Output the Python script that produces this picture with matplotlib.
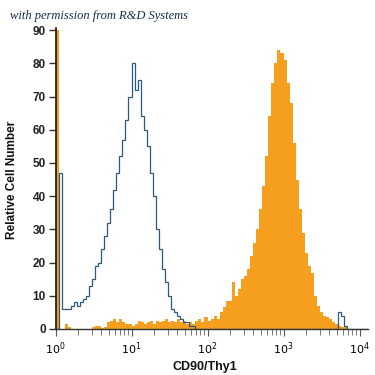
import numpy as np
import matplotlib
matplotlib.use("Agg")
import matplotlib.pyplot as plt
from matplotlib.ticker import LogLocator, FixedLocator

# ---- data: 25 log-channels per decade, starting at 10^0 ----
bins_per_decade = 25
isotype = [0, 47, 6, 6, 6, 7, 8, 7, 8, 9,
           10, 13, 15, 19, 20, 24, 28, 32, 36, 42,
           47, 52, 57, 63, 70, 80, 72, 75, 64, 60,
           55, 47, 40, 30, 24, 18, 14, 10, 6, 5,
           4, 3, 2, 2, 1, 1, 0, 0, 0, 0,
           0, 0, 0, 0, 0, 0, 0, 0, 0, 0,
           0, 0, 0, 0, 0, 0, 0, 0, 0, 0,
           0, 0, 0, 0, 0, 0, 0, 0, 0, 0,
           0, 0, 0, 0, 0, 0, 0, 0, 0, 0,
           0, 0, 0, 5, 4, 1, 0, 0, 0, 0,
           0, 0, 0]
cd90 = [90, 0, 0, 1.5, 0.5, 0, 0, 0, 0, 0,
        0, 0, 0.5, 1, 1, 0.3, 0.5, 2, 2.5, 3,
        2, 3, 2, 1.5, 1.5, 1, 1.5, 2.5, 2, 1.5,
        2, 2.5, 1.5, 2.5, 2, 2.5, 3, 2, 2.5, 2,
        3, 2, 2.5, 1.5, 2, 1.5, 2.5, 3, 2, 3.5,
        2.5, 3, 4, 3, 5, 6.5, 8.5, 8.5, 14, 10,
        12, 15, 16, 18, 22, 26, 30, 36, 43, 52,
        64, 74, 80, 84, 83, 81, 74, 68, 56, 45,
        36, 29, 23, 19, 17, 10, 7, 5, 4, 3.5,
        3, 2, 1.5, 1, 0.5, 0.5, 0, 0, 0, 0,
        0, 0, 0]
yticks = [0, 10, 20, 30, 40, 50, 60, 70, 80, 90]

edges = 10 ** (np.arange(len(cd90) + 1) / bins_per_decade)

fig = plt.figure(figsize=(3.75, 3.75), dpi=100)
ax = fig.add_axes([0.148, 0.1227, 0.833, 0.8023])

ax.stairs(cd90, edges, fill=True, color="#F69E1D", linewidth=0, zorder=2)
ax.stairs(isotype, edges, fill=False, color="#285a7c", linewidth=0.9, zorder=3)

ax.set_xscale("log")
ax.set_xlim(1, 10 ** 4.11)
ax.set_ylim(0, 90.6)

ax.xaxis.set_major_locator(LogLocator(base=10, numticks=10))
ax.xaxis.set_minor_locator(LogLocator(base=10, subs=np.arange(2, 10), numticks=20))
ax.yaxis.set_major_locator(FixedLocator(yticks))

for s in ["top", "right"]:
    ax.spines[s].set_visible(False)
ax.spines["left"].set_color("#111111")
ax.spines["bottom"].set_color("#333333")
ax.spines["left"].set_linewidth(1.2)
ax.spines["bottom"].set_linewidth(1.0)

ax.tick_params(axis="y", which="major", length=5, width=1, color="#333333",
               labelsize=8.5, pad=2)
ax.tick_params(axis="x", which="major", length=5, width=0.8, color="#555555",
               labelsize=8, pad=3)
ax.tick_params(axis="x", which="minor", length=4, width=0.7, color="#777777")
for lab in ax.get_yticklabels():
    lab.set_fontweight("bold")
    lab.set_family("Liberation Sans")
    lab.set_color("#222222")

fig.text(0.032, 0.52, "Relative Cell Number", rotation=90, ha="center", va="center",
         fontsize=8.5, fontweight="bold", family="Liberation Sans", color="#111111")
fig.text(0.545, 0.022, "CD90/Thy1", ha="center", va="center",
         fontsize=9, fontweight="bold", family="Liberation Sans", color="#111111")
fig.text(0.027, 0.957, "with permission from R&D Systems", ha="left", va="center",
         fontsize=9, style="italic", family="Liberation Serif", color="#1a2a4a")

fig.savefig("out.png", dpi=100, facecolor="white")
